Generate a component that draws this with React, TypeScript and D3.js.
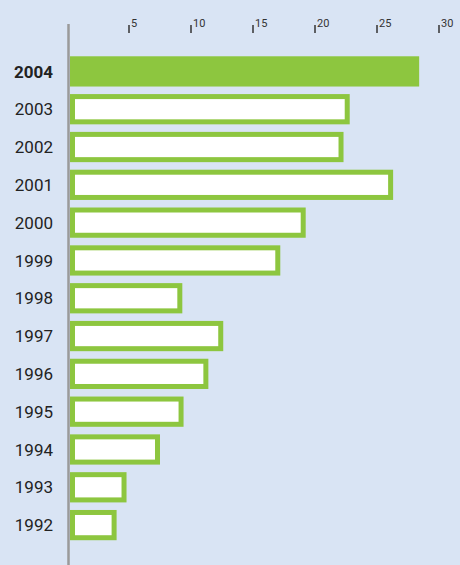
import React, { useEffect, useRef } from 'react';
import * as d3 from 'd3';

const YEARS = ['2004', '2003', '2002', '2001', '2000', '1999', '1998', '1997', '1996', '1995', '1994', '1993', '1992'];
const VALUES = [28.4, 22.8, 22.3, 26.3, 19.25, 17.2, 9.3, 12.6, 11.4, 9.4, 7.5, 4.8, 4.0];
const TICKS = [5, 10, 15, 20, 25, 30];

const BG = '#d9e4f4';
const GREEN = '#8dc63f';

export default function App() {
  const ref = useRef<SVGSVGElement>(null);

  useEffect(() => {
    const W = 460, H = 565;
    const svg = d3.select(ref.current);
    svg.selectAll('*').remove();

    const x = d3.scaleLinear().domain([0, 30]).range([67, 439]);
    const y = d3.scaleBand<string>().domain(YEARS).range([52.5, 544]).paddingInner(0.2).paddingOuter(0.1);

    svg.append('rect').attr('width', W).attr('height', H).attr('fill', BG);

    // top ticks
    const tg = svg.append('g');
    TICKS.forEach(t => {
      tg.append('line')
        .attr('x1', x(t)).attr('x2', x(t))
        .attr('y1', 25).attr('y2', 33)
        .attr('stroke', '#333').attr('stroke-width', 1.5);
      tg.append('text')
        .attr('x', x(t) + 2).attr('y', 26.5)
        .attr('fill', '#333')
        .attr('font-size', '11px')
        .attr('font-family', 'Roboto, sans-serif')
        .text(t);
    });

    // bars
    YEARS.forEach((yr, i) => {
      const y0 = y(yr)!;
      const h = y.bandwidth();
      const x0 = 70;
      const x1 = x(VALUES[i]);
      if (i === 0) {
        svg.append('rect')
          .attr('x', x0).attr('y', y0)
          .attr('width', x1 - x0).attr('height', h)
          .attr('fill', GREEN);
      } else {
        svg.append('rect')
          .attr('x', x0 + 2.5).attr('y', y0 + 2.5)
          .attr('width', x1 - x0 - 5).attr('height', h - 5)
          .attr('fill', '#fff')
          .attr('stroke', GREEN).attr('stroke-width', 5);
      }
      svg.append('text')
        .attr('x', 53).attr('y', y0 + h / 2)
        .attr('dy', '0.36em')
        .attr('text-anchor', 'end')
        .attr('fill', '#222')
        .attr('font-size', '17px')
        .attr('font-weight', i === 0 ? 'bold' : 'normal')
        .attr('font-family', 'Roboto, sans-serif')
        .text(yr);
    });

    // vertical axis line
    svg.append('line')
      .attr('x1', 68.5).attr('x2', 68.5)
      .attr('y1', 24).attr('y2', H)
      .attr('stroke', '#9a9a9a').attr('stroke-width', 2.5);
  }, []);

  return (
    <svg ref={ref} width={460} height={565}
      style={{ position: 'absolute', left: 0, top: 0, display: 'block' }} />
  );
}
